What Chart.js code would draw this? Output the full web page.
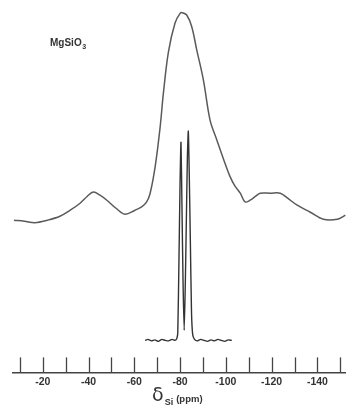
<!DOCTYPE html>
<html>
<head>
<meta charset="utf-8">
<script src="https://cdn.jsdelivr.net/npm/chart.js@4.4.1/dist/chart.umd.min.js"></script>
<style>
  html, body { margin: 0; padding: 0; background: #fff; }
  #wrap { width: 346px; height: 406px; position: relative; }
</style>
</head>
<body>
<div id="wrap"><canvas id="nmr"></canvas></div>
<script>
// --- data (chemical shift in ppm, intensity in arbitrary units)
const broadPpm = [-7.4, -12, -16.6, -22, -27.5, -32, -36.3, -39.5, -42.1, -45, -48, -52, -55.9, -60.3, -63.2, -65.4, -66.9, -69.1, -71.3, -72.7, -74.9, -77.8, -80.0, -81.0, -82.9, -85.1, -87.3, -90.2, -93.1, -96.1, -99, -101.9, -104, -106.3, -108.4, -110.6, -113, -115, -119.4, -123.8, -127, -131.2, -136.9, -142.6, -148.7, -152.2];
const broadInt = [152, 151, 149.5, 152, 156, 162, 169, 176, 180.3, 177, 172, 164, 158, 162, 165.3, 170.3, 178.7, 205.3, 245.3, 278.7, 320, 349, 358.7, 359.3, 357, 345.3, 322, 292, 252, 232, 213, 195.3, 186, 179, 170.3, 172, 176, 179, 179, 179, 174, 167, 160, 153, 153, 157];

const narrowPpm = [-64.7, -66, -67.5, -69, -70.5, -72, -73.5, -75, -76.5, -77.8, -78.6, -79.0, -79.5, -80.0, -80.4, -80.8, -81.3, -81.8, -82.3, -82.8, -83.2, -83.6, -84.0, -84.5, -85.0, -85.5, -86.3, -87.5, -89, -90.5, -92, -93.5, -95, -96.5, -98, -99.5, -101, -102.6];
const narrowInt = [32, 33, 31.5, 32.5, 31, 33, 32, 31.5, 33, 32, 34, 40, 110, 190, 230, 170, 90, 42, 90, 160, 215, 241, 200, 130, 60, 38, 33, 31.5, 33, 32, 31, 32.5, 31.5, 33, 32, 31, 32.5, 32];

const tickValues = [-10, -20, -30, -40, -50, -60, -70, -80, -90, -100, -110, -120, -130, -140, -150];
const labelledTicks = [-20, -40, -60, -80, -100, -120, -140];

const sampleName = ['MgSiO', '3'];
const axisTitle = ['δ', 'Si', '(ppm)'];

function toPoints(xs, ys) {
    return xs.map((x, i) => ({ x: x, y: ys[i] }));
}

// tick marks stand up from the axis line, labels and titles drawn as text
const decorations = {
    id: 'decorations',
    afterDraw(chart) {
        const ctx = chart.ctx;
        const xs = chart.scales.x;
        const base = chart.chartArea.bottom;
        ctx.save();
        ctx.strokeStyle = '#444';
        ctx.lineWidth = 1.3;
        xs.ticks.forEach(t => {
            const px = Math.round(xs.getPixelForValue(t.value)) + 0.5;
            ctx.beginPath();
            ctx.moveTo(px, base);
            ctx.lineTo(px, base - 15);
            ctx.stroke();
        });

        ctx.fillStyle = '#333';
        ctx.textBaseline = 'alphabetic';
        // sample label
        ctx.font = 'bold 10px "Liberation Sans", Arial, sans-serif';
        ctx.fillText(sampleName[0], 50, 46);
        const w = ctx.measureText(sampleName[0]).width;
        ctx.font = 'bold 7px "Liberation Sans", Arial, sans-serif';
        ctx.fillText(sampleName[1], 50 + w + 0.5, 49);

        // axis title, centred under -80 ppm
        const cx = xs.getPixelForValue(-80) - 28;
        ctx.font = '19px "DejaVu Sans", sans-serif';
        ctx.fillText(axisTitle[0], cx, 401);
        const wd = ctx.measureText(axisTitle[0]).width;
        ctx.font = 'bold 9px "Liberation Sans", Arial, sans-serif';
        ctx.fillText(axisTitle[1], cx + wd + 1, 405);
        const ws = ctx.measureText(axisTitle[1]).width;
        ctx.font = 'bold 9.5px "Liberation Sans", Arial, sans-serif';
        ctx.fillText(axisTitle[2], cx + wd + ws + 4, 402);
        ctx.restore();
    }
};

const ctx = document.getElementById('nmr').getContext('2d');
new Chart(ctx, {
    type: 'line',
    data: {
        datasets: [
            {
                label: 'MAS',
                data: toPoints(broadPpm, broadInt),
                borderColor: '#5a5a5a',
                borderWidth: 1.5,
                pointRadius: 0,
                tension: 0.35,
                fill: false
            },
            {
                label: 'static',
                data: toPoints(narrowPpm, narrowInt),
                borderColor: '#333',
                borderWidth: 1.4,
                pointRadius: 0,
                tension: 0.2,
                fill: false
            }
        ]
    },
    options: {
        responsive: true,
        maintainAspectRatio: false,
        animation: false,
        layout: { padding: { left: 13, right: 0, top: 2, bottom: 15 } },
        plugins: {
            legend: { display: false },
            tooltip: { enabled: false }
        },
        scales: {
            x: {
                type: 'linear',
                reverse: true,
                min: -152.5,
                max: -7,
                afterBuildTicks: scale => {
                    scale.ticks = tickValues.map(v => ({ value: v }));
                },
                grid: { display: false, drawTicks: false },
                border: { display: true, color: '#444', width: 1.5 },
                ticks: {
                    padding: 3,
                    color: '#333',
                    maxRotation: 0,
                    autoSkip: false,
                    font: { family: '"Liberation Sans", Arial, sans-serif', size: 10.5, weight: 'bold' },
                    callback: v => labelledTicks.includes(v) ? String(v) : ''
                }
            },
            y: {
                display: false,
                min: 0,
                max: 370
            }
        }
    },
    plugins: [decorations]
});
</script>
</body>
</html>
